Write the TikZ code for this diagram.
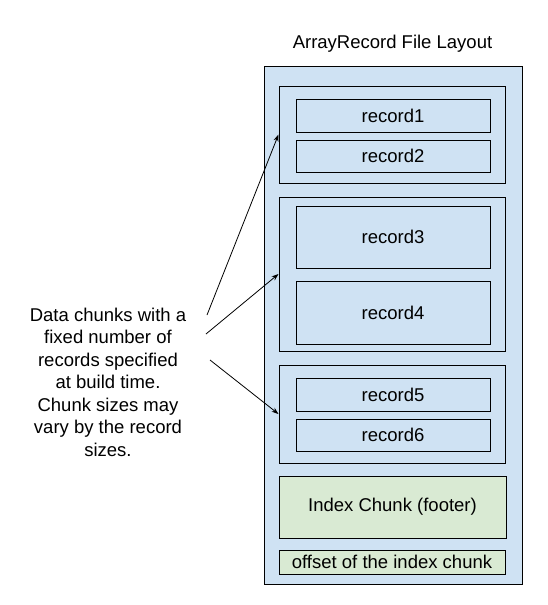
\documentclass[tikz,border=0pt]{standalone}
\usepackage{fontspec}
\setmainfont{Liberation Sans}
\usetikzlibrary{arrows.meta}
\definecolor{fileblue}{HTML}{CFE2F3}
\definecolor{idxgreen}{HTML}{D9EAD3}
\tikzset{
  box/.style={draw=black, line width=1pt, rectangle, inner sep=0pt, anchor=center},
  bluebox/.style={box, fill=fileblue},
  greenbox/.style={box, fill=idxgreen},
  lbl/.style={font=\fontsize{18.5}{22.5}\selectfont},
  pointer/.style={draw=black, line width=0.8pt, -{Stealth[length=7pt,width=5pt]}}
}
\begin{document}
\begin{tikzpicture}[x=1pt,y=-1pt]
\useasboundingbox (0,0) rectangle (548,605);
\node[lbl] (title) at (392.5,44) {ArrayRecord File Layout};
\node[bluebox, minimum width=258pt, minimum height=518pt] (file) at (393,325) {};
\node[bluebox, minimum width=226pt, minimum height=97pt] (c1) at (392,134.5) {};
\node[bluebox, lbl, minimum width=194pt, minimum height=33pt] (r1) at (393,115.5) {record1};
\node[bluebox, lbl, minimum width=194pt, minimum height=32pt] (r2) at (393,156) {record2};
\node[bluebox, minimum width=226pt, minimum height=154pt] (c2) at (392,274) {};
\node[bluebox, lbl, minimum width=194pt, minimum height=62pt] (r3) at (393,237) {record3};
\node[bluebox, lbl, minimum width=194pt, minimum height=63pt] (r4) at (393,312.5) {record4};
\node[bluebox, minimum width=226pt, minimum height=98pt] (c3) at (392,414) {};
\node[bluebox, lbl, minimum width=194pt, minimum height=33pt] (r5) at (393,394.5) {record5};
\node[bluebox, lbl, minimum width=194pt, minimum height=32pt] (r6) at (393,435) {record6};
\node[greenbox, lbl, minimum width=227pt, minimum height=62pt] (idx) at (392.5,507) {Index Chunk (footer)};
\node[greenbox, lbl, minimum width=226pt, minimum height=24pt] (off) at (392,562) {offset of the index chunk};
\node[lbl, align=center] (desc) at (108,382) {Data chunks with a\\fixed number of\\records specified\\at build time.\\Chunk sizes may\\vary by the record\\sizes.};
\coordinate (a1) at (207,315);
\coordinate (a2) at (206,334);
\coordinate (a3) at (210,360);
\draw[pointer] (a1) -- (c1.west);
\draw[pointer] (a2) -- (c2.west);
\draw[pointer] (a3) -- (c3.west);
\end{tikzpicture}
\end{document}
